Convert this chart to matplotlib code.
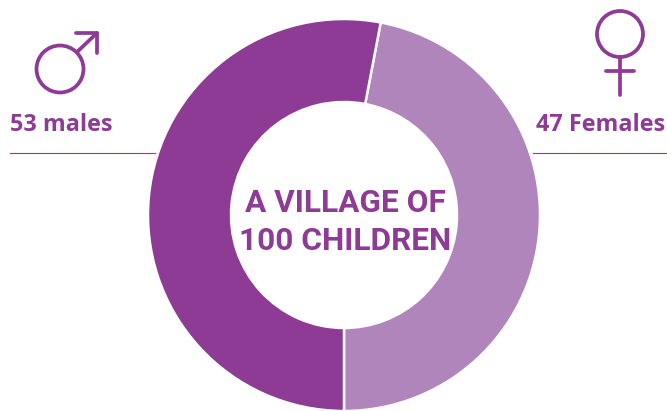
import matplotlib
matplotlib.use('Agg')
import matplotlib.pyplot as plt
from matplotlib.patches import Circle

# data
groups = ['Females', 'males']
counts = [47, 53]
labels = ['47 Females', '53 males']
title_lines = ['A VILLAGE OF', '100 CHILDREN']

dark = '#8E3B96'
light = '#B085BB'
W, H = 667, 411

fig = plt.figure(figsize=(W/100, H/100), dpi=100)
ax = fig.add_axes([0, 0, 1, 1])

# y axis is flipped below, so 90 is the bottom of the ring on screen
ax.pie(counts, colors=[light, dark], startangle=90, counterclock=False,
       center=(344, 215), radius=196, frame=True,
       wedgeprops=dict(width=83, edgecolor='white', linewidth=1.8))
ax.set_xlim(0, W)
ax.set_ylim(H, 0)
ax.set_aspect('equal')
ax.axis('off')

# centre text
ax.text(345, 203, title_lines[0], color=dark, fontsize=22.8, family='Roboto',
        fontweight='bold', ha='center', va='center')
ax.text(345, 241, title_lines[1], color=dark, fontsize=22.8, family='Roboto',
        fontweight='bold', ha='center', va='center')

# labels and rules
ax.text(10, 125, labels[1], color=dark, fontsize=16.8, family='Open Sans',
        fontweight='bold', ha='left', va='center')
ax.text(665, 125, labels[0], color=dark, fontsize=16.8, family='Open Sans',
        fontweight='bold', ha='right', va='center')
ax.plot([10, 155], [153.5, 153.5], color=dark, lw=0.8)
ax.plot([533, 666], [153.5, 153.5], color=dark, lw=0.8)

# male symbol
sw = 2.7
ax.add_patch(Circle((60, 69), 23.5, fill=False, ec=dark, lw=sw))
ax.plot([77, 97], [52, 33], color=dark, lw=sw, solid_capstyle='round')
ax.plot([76, 97, 97], [33, 33, 53], color=dark, lw=sw, solid_capstyle='round',
        solid_joinstyle='round')

# female symbol
ax.add_patch(Circle((620, 34), 23, fill=False, ec=dark, lw=sw))
ax.plot([620, 620], [57, 95], color=dark, lw=sw, solid_capstyle='round')
ax.plot([606, 634], [71.5, 71.5], color=dark, lw=sw, solid_capstyle='round')

fig.savefig('out.png', dpi=100)
